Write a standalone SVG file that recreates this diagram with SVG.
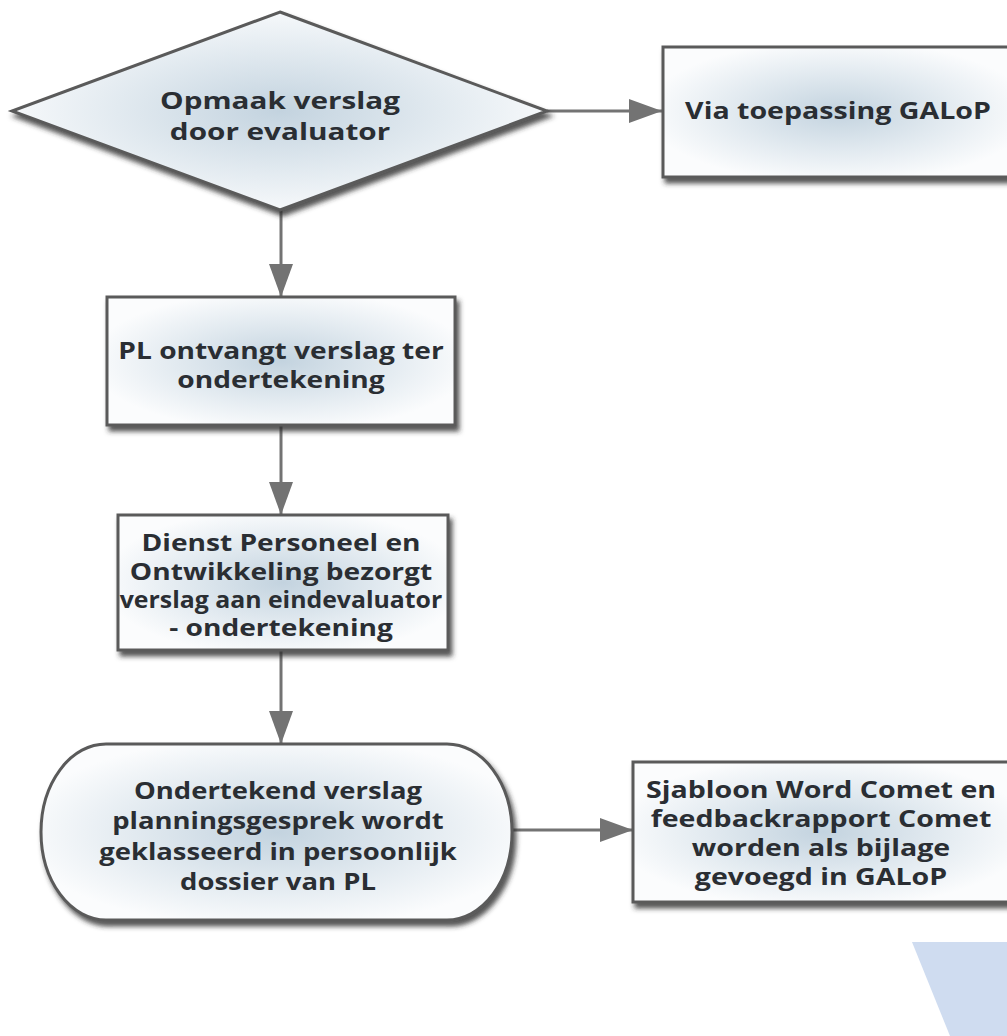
<svg xmlns="http://www.w3.org/2000/svg" width="1007" height="1036" viewBox="0 0 1007 1036">
<defs>
<radialGradient id="g" cx="50%" cy="50%" r="55%">
<stop offset="0" stop-color="#c3d3df"/>
<stop offset="0.55" stop-color="#e2eaf0"/>
<stop offset="1" stop-color="#fbfcfd"/>
</radialGradient>
<filter id="sh" x="-10%" y="-10%" width="125%" height="130%">
<feDropShadow dx="3" dy="5" stdDeviation="2.5" flood-color="#2a2a2a" flood-opacity="0.8"/>
</filter>
<marker id="ah" markerWidth="11" markerHeight="8" refX="11" refY="4" orient="auto" markerUnits="strokeWidth">
<path d="M0,0 L11,4 L0,8 Z" fill="#737373"/>
</marker>
<style>
.s{fill:url(#g);stroke:#5a5a5a;stroke-width:3;filter:url(#sh)}
.t{font-family:"Open Sans","DejaVu Sans",sans-serif;font-weight:bold;font-size:22.5px;fill:#2a2e33;text-anchor:middle}
.c{stroke:#737373;stroke-width:3;fill:none;marker-end:url(#ah)}
</style>
</defs>
<rect width="1007" height="1036" fill="#ffffff"/>
<polygon points="912,942 1007,942 1007,1036 950,1036" fill="#cfdcf0"/>
<g id="connectors">
<line class="c" x1="547" y1="111" x2="662" y2="111"/>
<line class="c" x1="281" y1="210" x2="281" y2="297"/>
<line class="c" x1="281" y1="425" x2="281" y2="515"/>
<line class="c" x1="281" y1="650" x2="281" y2="744"/>
<line class="c" x1="512" y1="830" x2="633" y2="830"/>
</g>
<g id="n1">
<polygon class="s" points="280,12 547,111 280,210 12,111"/>
<g transform="translate(280,0) scale(1.32,1)">
<text class="t" x="0" y="109">Opmaak verslag</text>
<text class="t" x="0" y="140">door evaluator</text>
</g>
</g>
<g id="n2">
<rect class="s" x="663" y="47" width="352" height="130"/>
<g transform="translate(838,0) scale(1.27,1)">
<text class="t" x="0" y="119">Via toepassing GALoP</text>
</g>
</g>
<g id="n3">
<rect class="s" x="107" y="297" width="348" height="128"/>
<g transform="translate(281,0) scale(1.25,1)">
<text class="t" x="0" y="359">PL ontvangt verslag ter</text>
<text class="t" x="0" y="388">ondertekening</text>
</g>
</g>
<g id="n4">
<rect class="s" x="118" y="515" width="330" height="135"/>
<g transform="translate(281,0) scale(1.25,1)">
<text class="t" x="0" y="551">Dienst Personeel en</text>
<text class="t" x="0" y="580">Ontwikkeling bezorgt</text>
<text class="t" x="0" y="608" textLength="258" lengthAdjust="spacingAndGlyphs">verslag aan eindevaluator</text>
<text class="t" x="0" y="636">- ondertekening</text>
</g>
</g>
<g id="n5">
<rect class="s" x="41" y="744" width="471" height="176" rx="65" ry="88"/>
<g transform="translate(278,0) scale(1.22,1)">
<text class="t" x="0" y="799">Ondertekend verslag</text>
<text class="t" x="0" y="829">planningsgesprek wordt</text>
<text class="t" x="0" y="860">geklasseerd in persoonlijk</text>
<text class="t" x="0" y="890">dossier van PL</text>
</g>
</g>
<g id="n6">
<rect class="s" x="633" y="762" width="380" height="140"/>
<g transform="translate(821,0) scale(1.27,1)">
<text class="t" x="0" y="798">Sjabloon Word Comet en</text>
<text class="t" x="0" y="827">feedbackrapport Comet</text>
<text class="t" x="0" y="856">worden als bijlage</text>
<text class="t" x="0" y="885">gevoegd in GALoP</text>
</g>
</g>
</svg>
